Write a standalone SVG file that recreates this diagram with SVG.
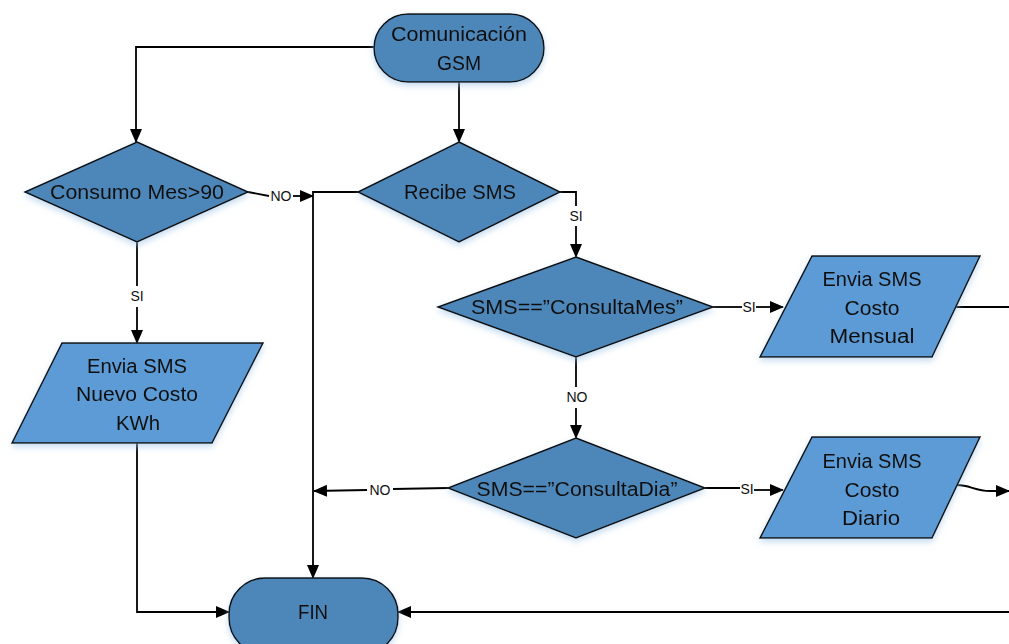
<svg xmlns="http://www.w3.org/2000/svg" width="1009" height="644" viewBox="0 0 1009 644">
  <style>
    .dec { fill: #4d87ba; stroke: #111; stroke-width: 1.5; }
    .term { fill: #4d87ba; stroke: #111; stroke-width: 1.5; }
    .io { fill: #5b9bd5; stroke: #111; stroke-width: 1.5; }
    .t { font-family: "Liberation Sans", Arial, sans-serif; font-size: 20px; fill: #111; text-anchor: middle; dominant-baseline: central; }
    .lbl { font-family: "Liberation Sans", Arial, sans-serif; font-size: 14px; fill: #111; text-anchor: middle; dominant-baseline: central; }
    .edge { fill: none; stroke: #000; stroke-width: 1.8; }
  </style>
  <defs>
    <marker id="arrow" markerUnits="userSpaceOnUse" markerWidth="14" markerHeight="12" refX="13" refY="6" orient="auto">
      <path d="M0,0 L14,6 L0,12 Z" fill="#000"/>
    </marker>
    <filter id="glow" x="-10%" y="-10%" width="120%" height="130%">
      <feGaussianBlur in="SourceAlpha" stdDeviation="3"/>
      <feOffset dy="3" result="b"/>
      <feFlood flood-color="#9cc3e6" flood-opacity="0.6"/>
      <feComposite in2="b" operator="in"/>
      <feMerge><feMergeNode/><feMergeNode in="SourceGraphic"/></feMerge>
    </filter>
  </defs>
  <rect width="1009" height="644" fill="#fff"/>

  <!-- connectors -->
  <g id="connectors">
    <path class="edge" d="M374,47 H136 V142" marker-end="url(#arrow)"/>
    <path class="edge" d="M459,82 V142" marker-end="url(#arrow)"/>
    <path class="edge" d="M248,192 L269,196"/>
    <path class="edge" d="M293,196 H313" marker-end="url(#arrow)"/>
    <text class="lbl" x="281" y="196">NO</text>
    <path class="edge" d="M358,192 H313 V578" marker-end="url(#arrow)"/>
    <path class="edge" d="M560,192 H576 V206"/>
    <text class="lbl" x="576" y="216">SI</text>
    <path class="edge" d="M576,226 V257" marker-end="url(#arrow)"/>
    <path class="edge" d="M713,307 H742"/>
    <text class="lbl" x="749" y="307">SI</text>
    <path class="edge" d="M756,307 H783" marker-end="url(#arrow)"/>
    <path class="edge" d="M576,357 V387"/>
    <text class="lbl" x="577" y="397">NO</text>
    <path class="edge" d="M576,408 V438" marker-end="url(#arrow)"/>
    <path class="edge" d="M956,307 H1009"/>
    <path class="edge" d="M448,488 L393,489"/>
    <text class="lbl" x="380" y="490">NO</text>
    <path class="edge" d="M367,490 L314,491" marker-end="url(#arrow)"/>
    <path class="edge" d="M705,488 H740"/>
    <text class="lbl" x="747" y="489">SI</text>
    <path class="edge" d="M754,490 H783" marker-end="url(#arrow)"/>
    <path class="edge" d="M957,485 C970,485 975,491 990,491 H1009" marker-end="url(#arrow)"/>
    <path class="edge" d="M137,242 V286"/>
    <text class="lbl" x="137" y="296">SI</text>
    <path class="edge" d="M137,307 V343" marker-end="url(#arrow)"/>
    <path class="edge" d="M137,443 V612 H229" marker-end="url(#arrow)"/>
    <path class="edge" d="M1009,612 H398" marker-end="url(#arrow)"/>
  </g>

  <g id="inicio" filter="url(#glow)">
    <rect class="term" x="374" y="14" width="170" height="68" rx="34" ry="34"/>
    <text class="t" x="459" y="34" textLength="136" lengthAdjust="spacingAndGlyphs">Comunicación</text>
    <text class="t" x="459" y="63" textLength="44" lengthAdjust="spacingAndGlyphs">GSM</text>
  </g>

  <g id="consumo-mes" filter="url(#glow)">
    <polygon class="dec" points="137,142 248,192 137,242 25,192"/>
    <text class="t" x="137" y="192" textLength="174" lengthAdjust="spacingAndGlyphs">Consumo Mes&gt;90</text>
  </g>

  <g id="recibe-sms" filter="url(#glow)">
    <polygon class="dec" points="459,142 560,192 459,242 358,192"/>
    <text class="t" x="460" y="192" textLength="112" lengthAdjust="spacingAndGlyphs">Recibe SMS</text>
  </g>

  <g id="consulta-mes" filter="url(#glow)">
    <polygon class="dec" points="576,257 713,307 576,357 438,307"/>
    <text class="t" x="577" y="307" textLength="212" lengthAdjust="spacingAndGlyphs">SMS==”ConsultaMes”</text>
  </g>

  <g id="consulta-dia" filter="url(#glow)">
    <polygon class="dec" points="576,438 705,488 576,538 448,488"/>
    <text class="t" x="577" y="489" textLength="201" lengthAdjust="spacingAndGlyphs">SMS==”ConsultaDia”</text>
  </g>

  <g id="nuevo-costo" filter="url(#glow)">
    <polygon class="io" points="62,343 263,343 212,443 12,443"/>
    <text class="t" x="137" y="366" textLength="100" lengthAdjust="spacingAndGlyphs">Envia SMS</text>
    <text class="t" x="137" y="394" textLength="122" lengthAdjust="spacingAndGlyphs">Nuevo Costo</text>
    <text class="t" x="138" y="423" textLength="44" lengthAdjust="spacingAndGlyphs">KWh</text>
  </g>

  <g id="costo-mensual" filter="url(#glow)">
    <polygon class="io" points="812,256 980,256 932,357 760,357"/>
    <text class="t" x="872" y="279" textLength="99" lengthAdjust="spacingAndGlyphs">Envia SMS</text>
    <text class="t" x="872" y="308" textLength="55" lengthAdjust="spacingAndGlyphs">Costo</text>
    <text class="t" x="872" y="336" textLength="85" lengthAdjust="spacingAndGlyphs">Mensual</text>
  </g>

  <g id="costo-diario" filter="url(#glow)">
    <polygon class="io" points="812,437 980,437 932,538 760,538"/>
    <text class="t" x="872" y="461" textLength="99" lengthAdjust="spacingAndGlyphs">Envia SMS</text>
    <text class="t" x="872" y="490" textLength="55" lengthAdjust="spacingAndGlyphs">Costo</text>
    <text class="t" x="871" y="518" textLength="58" lengthAdjust="spacingAndGlyphs">Diario</text>
  </g>

  <g id="fin" filter="url(#glow)">
    <rect class="term" x="229" y="578" width="169" height="76" rx="36" ry="36"/>
    <text class="t" x="313" y="612" textLength="30" lengthAdjust="spacingAndGlyphs">FIN</text>
  </g>
</svg>
